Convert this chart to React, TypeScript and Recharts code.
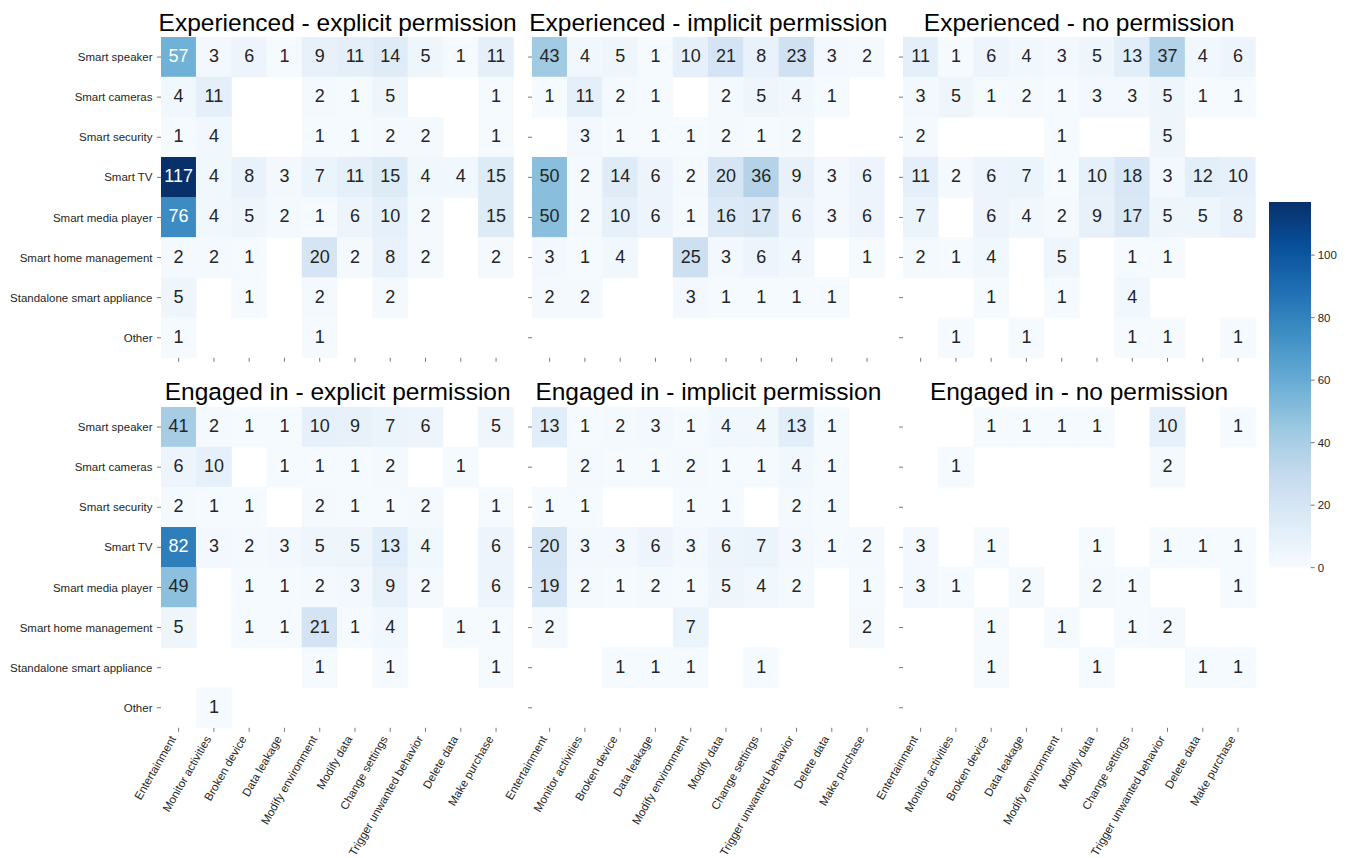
import React from 'react';
import { ScatterChart, Scatter, XAxis, YAxis, BarChart, Bar } from 'recharts';

// ---------- categories ----------
const ROWS = [
  'Smart speaker',
  'Smart cameras',
  'Smart security',
  'Smart TV',
  'Smart media player',
  'Smart home management',
  'Standalone smart appliance',
  'Other',
];
const COLS = [
  'Entertainment',
  'Monitor activities',
  'Broken device',
  'Data leakage',
  'Modify environment',
  'Modify data',
  'Change settings',
  'Trigger unwanted behavior',
  'Delete data',
  'Make purchase',
];
const _ = null;

// ---------- values (rows x columns) ----------
const EXPERIENCED_EXPLICIT = [
  [57, 3, 6, 1, 9, 11, 14, 5, 1, 11],
  [4, 11, _, _, 2, 1, 5, _, _, 1],
  [1, 4, _, _, 1, 1, 2, 2, _, 1],
  [117, 4, 8, 3, 7, 11, 15, 4, 4, 15],
  [76, 4, 5, 2, 1, 6, 10, 2, _, 15],
  [2, 2, 1, _, 20, 2, 8, 2, _, 2],
  [5, _, 1, _, 2, _, 2, _, _, _],
  [1, _, _, _, 1, _, _, _, _, _],
];
const EXPERIENCED_IMPLICIT = [
  [43, 4, 5, 1, 10, 21, 8, 23, 3, 2],
  [1, 11, 2, 1, _, 2, 5, 4, 1, _],
  [_, 3, 1, 1, 1, 2, 1, 2, _, _],
  [50, 2, 14, 6, 2, 20, 36, 9, 3, 6],
  [50, 2, 10, 6, 1, 16, 17, 6, 3, 6],
  [3, 1, 4, _, 25, 3, 6, 4, _, 1],
  [2, 2, _, _, 3, 1, 1, 1, 1, _],
  [_, _, _, _, _, _, _, _, _, _],
];
const EXPERIENCED_NONE = [
  [11, 1, 6, 4, 3, 5, 13, 37, 4, 6],
  [3, 5, 1, 2, 1, 3, 3, 5, 1, 1],
  [2, _, _, _, 1, _, _, 5, _, _],
  [11, 2, 6, 7, 1, 10, 18, 3, 12, 10],
  [7, _, 6, 4, 2, 9, 17, 5, 5, 8],
  [2, 1, 4, _, 5, _, 1, 1, _, _],
  [_, _, 1, _, 1, _, 4, _, _, _],
  [_, 1, _, 1, _, _, 1, 1, _, 1],
];
const ENGAGED_EXPLICIT = [
  [41, 2, 1, 1, 10, 9, 7, 6, _, 5],
  [6, 10, _, 1, 1, 1, 2, _, 1, _],
  [2, 1, 1, _, 2, 1, 1, 2, _, 1],
  [82, 3, 2, 3, 5, 5, 13, 4, _, 6],
  [49, _, 1, 1, 2, 3, 9, 2, _, 6],
  [5, _, 1, 1, 21, 1, 4, _, 1, 1],
  [_, _, _, _, 1, _, 1, _, _, 1],
  [_, 1, _, _, _, _, _, _, _, _],
];
const ENGAGED_IMPLICIT = [
  [13, 1, 2, 3, 1, 4, 4, 13, 1, _],
  [_, 2, 1, 1, 2, 1, 1, 4, 1, _],
  [1, 1, _, _, 1, 1, _, 2, 1, _],
  [20, 3, 3, 6, 3, 6, 7, 3, 1, 2],
  [19, 2, 1, 2, 1, 5, 4, 2, _, 1],
  [2, _, _, _, 7, _, _, _, _, 2],
  [_, _, 1, 1, 1, _, 1, _, _, _],
  [_, _, _, _, _, _, _, _, _, _],
];
const ENGAGED_NONE = [
  [_, _, 1, 1, 1, 1, _, 10, _, 1],
  [_, 1, _, _, _, _, _, 2, _, _],
  [_, _, _, _, _, _, _, _, _, _],
  [3, _, 1, _, _, 1, _, 1, 1, 1],
  [3, 1, _, 2, _, 2, 1, _, _, 1],
  [_, _, 1, _, 1, _, 1, 2, _, _],
  [_, _, 1, _, _, 1, _, _, 1, 1],
  [_, _, _, _, _, _, _, _, _, _],
];

const TITLES = [
  'Experienced - explicit permission',
  'Experienced - implicit permission',
  'Experienced - no permission',
  'Engaged in - explicit permission',
  'Engaged in - implicit permission',
  'Engaged in - no permission',
];
const MATRICES = [
  EXPERIENCED_EXPLICIT,
  EXPERIENCED_IMPLICIT,
  EXPERIENCED_NONE,
  ENGAGED_EXPLICIT,
  ENGAGED_IMPLICIT,
  ENGAGED_NONE,
];
const COLORBAR_TICKS = [0, 20, 40, 60, 80, 100];

// ---------- color scale (matplotlib "Blues") ----------
const BLUES = ['#f7fbff', '#deebf7', '#c6dbef', '#9ecae1', '#6baed6', '#4292c6', '#2171b5', '#08519c', '#08306b'];
const VMAX = Math.max(...MATRICES.flat(2).map((v) => (v == null ? 0 : v)));

const hexToRgb = (h: string) => [1, 3, 5].map((i) => parseInt(h.slice(i, i + 2), 16));
function mixBlues(t: number): number[] {
  const c = Math.max(0, Math.min(1, t));
  const s = c * (BLUES.length - 1);
  const i = Math.min(BLUES.length - 2, Math.floor(s));
  const f = s - i;
  const a = hexToRgb(BLUES[i]);
  const b = hexToRgb(BLUES[i + 1]);
  return a.map((av, k) => av + (b[k] - av) * f);
}
function blues(t: number): string {
  const m = mixBlues(t).map((v) => Math.round(v));
  return `rgb(${m[0]},${m[1]},${m[2]})`;
}
function textColorFor(t: number): string {
  const lin = mixBlues(t).map((c) => {
    const v = c / 255;
    return v <= 0.03928 ? v / 12.92 : Math.pow((v + 0.055) / 1.055, 2.4);
  });
  const lum = 0.2126 * lin[0] + 0.7152 * lin[1] + 0.0722 * lin[2];
  return lum > 0.408 ? '#262626' : '#ffffff';
}

// ---------- layout ----------
const FONT = '"Liberation Sans", Arial, Helvetica, sans-serif';
const PLOT_LEFTS = [161.3, 532.0, 902.7];
const PLOT_TOPS = [37.3, 406.7];
const PW = 352.7;
const PH = 320.8;
const CW = PW / COLS.length;
const CH = PH / ROWS.length;
const TITLE_BASELINES = [30.5, 399.5];
const TICK_COLOR = '#555555';
const LABEL_COLOR = '#262626';

const COL_TICKS = COLS.map((_c, i) => i);
const ROW_TICKS = ROWS.map((_r, i) => i);

const cellsOf = (m: (number | null)[][]) => {
  const out: { x: number; y: number; v: number }[] = [];
  m.forEach((row, ri) =>
    row.forEach((v, ci) => {
      if (v != null) out.push({ x: ci, y: ri, v });
    })
  );
  return out;
};

const CellShape = (props: any) => {
  const { cx, cy, payload } = props;
  const t = payload.v / VMAX;
  return (
    <g>
      <rect x={cx - CW / 2 - 0.3} y={cy - CH / 2 - 0.3} width={CW + 0.6} height={CH + 0.6} fill={blues(t)} />
      <text x={cx} y={cy + 5} textAnchor="middle" fontSize={18} fontFamily={FONT} fill={textColorFor(t)}>
        {payload.v}
      </text>
    </g>
  );
};

const XTick = (props: any) => {
  const { x, y, payload } = props;
  const px = x - 2.2;
  const py = y + 5;
  return (
    <text
      x={px}
      y={py}
      transform={`rotate(-60, ${px}, ${py})`}
      textAnchor="end"
      fontSize={11.5}
      fontFamily={FONT}
      fill={LABEL_COLOR}
    >
      {COLS[payload.value]}
    </text>
  );
};

const YTick = (props: any) => {
  const { x, y, payload } = props;
  return (
    <text x={x} y={y + 4.1} textAnchor="end" fontSize={11.5} fontFamily={FONT} fill={LABEL_COLOR}>
      {ROWS[payload.value]}
    </text>
  );
};

const NoTick = () => <g />;

function Panel({ idx }: { idx: number }) {
  const col = idx % 3;
  const row = Math.floor(idx / 3);
  const isLeft = col === 0;
  const isBottom = row === 1;
  const yw = isLeft ? 158 : 60;
  const xh = isBottom ? 140 : 10;
  const width = yw + PW + 2;
  const height = PH + xh;
  return (
    <div style={{ position: 'absolute', left: PLOT_LEFTS[col] - yw, top: PLOT_TOPS[row] }}>
      <ScatterChart width={width} height={height} margin={{ top: 0, right: 2, bottom: 0, left: 0 }}>
        <XAxis
          type="number"
          dataKey="x"
          domain={[-0.5, COLS.length - 0.5]}
          allowDataOverflow
          ticks={COL_TICKS}
          interval={0}
          height={xh}
          axisLine={false}
          tickSize={4}
          tickMargin={2}
          tickLine={{ stroke: TICK_COLOR, strokeWidth: 0.8 }}
          tick={isBottom ? <XTick /> : <NoTick />}
        />
        <YAxis
          type="number"
          dataKey="y"
          domain={[-0.5, ROWS.length - 0.5]}
          allowDataOverflow
          reversed
          ticks={ROW_TICKS}
          interval={0}
          width={yw}
          axisLine={false}
          tickSize={4}
          tickMargin={4.5}
          tickLine={{ stroke: TICK_COLOR, strokeWidth: 0.8 }}
          tick={isLeft ? <YTick /> : <NoTick />}
        />
        <Scatter data={cellsOf(MATRICES[idx])} shape={<CellShape />} isAnimationActive={false} />
      </ScatterChart>
    </div>
  );
}

function ColorBar() {
  const cbData = [{ name: 'scale', v: VMAX }];
  const plotW = 41.7;
  const plotH = 365.7;
  const axisW = 40;
  const bottomPad = 12;
  return (
    <div style={{ position: 'absolute', left: 1269.3, top: 202 }}>
      <BarChart
        width={plotW + axisW}
        height={plotH + bottomPad}
        data={cbData}
        margin={{ top: 0, right: 0, bottom: bottomPad, left: 0 }}
        barCategoryGap={0}
      >
        <defs>
          <linearGradient id="bluesGrad" x1="0" y1="1" x2="0" y2="0">
            {BLUES.map((c, i) => (
              <stop key={i} offset={i / (BLUES.length - 1)} stopColor={c} />
            ))}
          </linearGradient>
        </defs>
        <XAxis dataKey="name" hide />
        <YAxis
          orientation="right"
          type="number"
          domain={[0, VMAX]}
          allowDataOverflow
          ticks={COLORBAR_TICKS}
          interval={0}
          width={axisW}
          axisLine={false}
          tickSize={4}
          tickMargin={3}
          tickLine={{ stroke: TICK_COLOR, strokeWidth: 0.8 }}
          tick={{ fontSize: 11.5, fontFamily: FONT, fill: LABEL_COLOR }}
        />
        <Bar dataKey="v" fill="url(#bluesGrad)" isAnimationActive={false} />
      </BarChart>
    </div>
  );
}

export default function App() {
  return (
    <div style={{ position: 'absolute', left: 0, top: 0, width: 1348, height: 858, background: '#ffffff', fontFamily: FONT }}>
      {MATRICES.map((_m, i) => (
        <Panel key={i} idx={i} />
      ))}
      <ColorBar />
      <svg width={1348} height={858} style={{ position: 'absolute', left: 0, top: 0, pointerEvents: 'none' }}>
        {TITLES.map((t, i) => {
          const col = i % 3;
          const row = Math.floor(i / 3);
          return (
            <text
              key={i}
              x={PLOT_LEFTS[col] + PW / 2}
              y={TITLE_BASELINES[row]}
              textAnchor="middle"
              fontSize={24.5}
              fontFamily={FONT}
              fill="#000000"
            >
              {t}
            </text>
          );
        })}
      </svg>
    </div>
  );
}
